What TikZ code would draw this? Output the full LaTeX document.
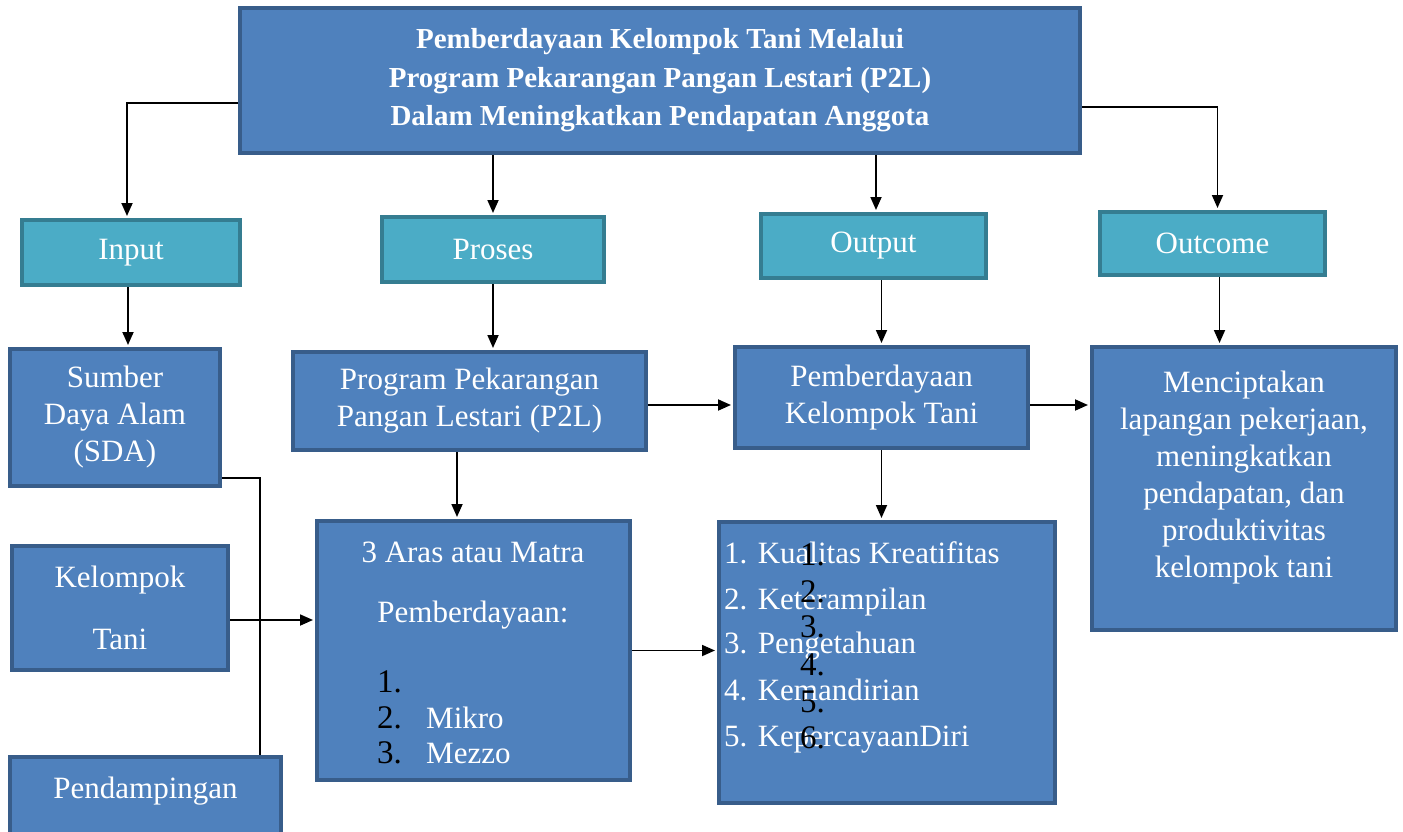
\documentclass[tikz,border=0pt]{standalone}
\usepackage{fontspec}
\setmainfont{Liberation Serif}
\usepackage{xcolor}
\usepackage{tikz}
\usetikzlibrary{arrows.meta}

\definecolor{boxblue}{HTML}{4F81BD}
\definecolor{boxedge}{HTML}{385D8A}
\definecolor{headteal}{HTML}{4BACC6}
\definecolor{headedge}{HTML}{357D91}

\tikzset{
  block/.style={draw=boxedge, fill=boxblue, line width=4pt, text=white,
    align=center, inner sep=0pt, font=\fontsize{31}{37}\selectfont},
  head/.style={draw=headedge, fill=headteal, line width=4pt, text=white,
    inner sep=0pt, font=\fontsize{31}{37}\selectfont},
  txt/.style={text=white, inner sep=0pt, font=\fontsize{31}{37}\selectfont},
  num/.style={text=black, inner sep=0pt, font=\fontsize{33}{37}\selectfont},
  link/.style={line width=1.8pt, shorten >=2pt, -{Triangle[length=13pt,width=11pt]}},
  plain/.style={line width=1.8pt}
}

\begin{document}
\begin{tikzpicture}[x=1pt, y=-1pt]
        \useasboundingbox (0,0) rectangle (1403,832);

        % judul
        \node[block, minimum width=840pt, minimum height=145pt,
            font=\bfseries\fontsize{29}{38.5}\selectfont] (title) at (660,80.5)
            {Pemberdayaan Kelompok Tani Melalui\\Program Pekarangan Pangan Lestari (P2L)\\Dalam Meningkatkan Pendapatan Anggota};

        % kepala kolom
        \node[head, minimum width=218pt, minimum height=65pt] (input) at (131,252.5) {Input};
        \node[head, minimum width=222pt, minimum height=65pt] (proses) at (493,249.5) {Proses};
        \node[head, minimum width=225pt, minimum height=64pt] (output) at (873.5,246) {Output};
        \node[head, minimum width=225pt, minimum height=63pt] (outcome) at (1212.5,243.5) {Outcome};

        % input
        \node[block, minimum width=210pt, minimum height=137pt] (sda) at (115,417.5)
            {Sumber\\Daya Alam\\(SDA)};
        \node[block, minimum width=216pt, minimum height=124pt,
            font=\fontsize{31}{62}\selectfont] (kel) at (120,608) {Kelompok\\Tani};
        \node[block, minimum width=271pt, minimum height=81pt, text depth=20pt] (pend) at (145.5,797.5)
            {Pendampingan};

        % proses
        \node[block, minimum width=353pt, minimum height=98pt] (p2l) at (469.5,401)
            {Program Pekarangan\\Pangan Lestari (P2L)};
        \node[block, minimum width=313pt, minimum height=259pt] (aras) at (473.5,650.5) {};
        \node[txt] (aras1) at (473,552) {3 Aras atau Matra};
        \node[txt] (aras2) at (473,615) {Pemberdayaan:};
        \node[num, anchor=base west] (m1) at (377,692) {1.};
        \node[num, anchor=base west] (m2) at (377,728) {2.};
        \node[num, anchor=base west] (m3) at (377,763) {3.};
        \node[txt, anchor=base west] (mikro) at (426,728) {Mikro};
        \node[txt, anchor=base west] (mezzo) at (426,763) {Mezzo};

        % output
        \node[block, minimum width=293pt, minimum height=101pt] (pemb) at (881.5,397.5)
            {Pemberdayaan\\Kelompok Tani};
        \node[block, minimum width=336pt, minimum height=281pt] (kual) at (887,662.5) {};
        \node[txt, anchor=base west] (k1) at (724,563) {1. Kualitas Kreatifitas};
        \node[txt, anchor=base west] (k2) at (724,609) {2. Keterampilan};
        \node[txt, anchor=base west] (k3) at (724,653) {3. Pengetahuan};
        \node[txt, anchor=base west] (k4) at (724,700) {4. Kemandirian};
        \node[txt, anchor=base west] (k5) at (724,746) {5. KepercayaanDiri};
        \node[num, anchor=base west] (n1) at (800,565) {1.};
        \node[num, anchor=base west] (n2) at (800,602) {2.};
        \node[num, anchor=base west] (n3) at (800,637) {3.};
        \node[num, anchor=base west] (n4) at (800,675) {4.};
        \node[num, anchor=base west] (n5) at (800,712) {5.};
        \node[num, anchor=base west] (n6) at (800,748) {6.};

        % outcome
        \node[block, minimum width=304pt, minimum height=283pt] (cipta) at (1244,488.5) {};
        \node[txt, align=center] (ciptatext) at (1244,477.5)
            {Menciptakan\\lapangan pekerjaan,\\meningkatkan\\pendapatan, dan\\produktivitas\\kelompok tani};

        % panah
        \draw[link] ([yshift=-22.5pt]title.west) -| ([xshift=-4pt]input.north);
        \draw[link] (title.south -| proses.north) -- (proses.north);
        \draw[link] ([xshift=2.5pt]title.south -| output.north) -- ([xshift=2.5pt]output.north);
        \draw[link] ([yshift=-26.5pt]title.east) -| ([xshift=5pt]outcome.north);

        \draw[link] ([xshift=-3pt]input.south) -- ([xshift=-3pt]input.south |- sda.north);
        \draw[link] (proses.south) -- (proses.south |- p2l.north);
        \draw[link] (output.south -| pemb.north) -- (pemb.north);
        \draw[link] ([xshift=7pt]outcome.south) -- ([xshift=7pt]outcome.south |- cipta.north);

        \draw[link] ([yshift=-4pt]p2l.east) -- ([yshift=-4pt]p2l.east -| pemb.west);
        \draw[link] ([yshift=-7.5pt]pemb.east) -- ([yshift=-7.5pt]pemb.east -| cipta.west);
        \draw[link] ([xshift=-12.5pt]p2l.south) -- ([xshift=-12.5pt]p2l.south |- aras.north);
        \draw[link] (pemb.south) -- (pemb.south |- kual.north);
        \draw[link] (aras.east) -- (aras.east -| kual.west);

        \coordinate (join) at (260,0);
        \draw[plain] ([yshift=-60.5pt]sda.east) -| (pend.north -| join);
        \draw[link] ([yshift=-12pt]kel.east) -- ([yshift=-12pt]kel.east -| aras.west);
\end{tikzpicture}
\end{document}
